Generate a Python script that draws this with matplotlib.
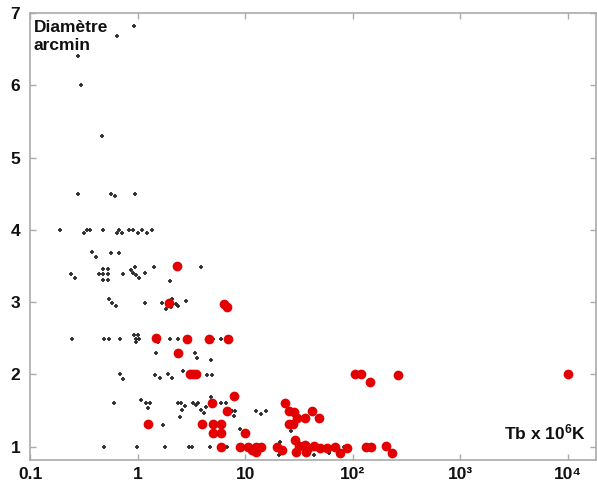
import matplotlib
matplotlib.use("Agg")
import matplotlib.pyplot as plt
from matplotlib.ticker import FixedLocator, NullLocator, FixedFormatter

plt.rcParams['font.family'] = ['Liberation Sans', 'DejaVu Sans']
plt.rcParams['mathtext.fontset'] = 'custom'
plt.rcParams['mathtext.rm'] = 'Liberation Sans:bold'
plt.rcParams['mathtext.bf'] = 'Liberation Sans:bold'
plt.rcParams['mathtext.it'] = 'Liberation Sans:bold'

black_x = [0.92, 0.64, 0.28, 0.30, 0.47,
           0.28, 0.56, 0.61, 0.94,
           0.19, 0.32, 0.34, 0.36, 0.48, 0.64, 0.67, 0.72, 0.84, 0.90, 1.0, 1.11, 1.21, 1.35,
           0.38, 0.41, 0.57, 0.67,
           0.24, 0.26, 0.48, 0.53, 0.44, 0.48, 0.53, 0.48, 0.53, 0.73,
           0.87, 0.94, 0.90, 0.97, 1.04, 1.16, 1.42, 3.85, 2.01,
           0.54, 0.58, 0.63, 1.16, 1.70, 1.85, 2.10, 2.05, 2.26, 2.37, 2.84,
           0.246, 0.49, 0.54, 0.68, 0.92, 1.0, 0.97, 1.04, 0.96, 1.55, 1.98, 2.37, 5.0, 6.0,
           1.47, 3.39, 3.60, 4.84,
           0.68, 0.73, 1.44, 1.60, 1.93, 2.10, 2.66, 4.41, 4.95,
           0.60, 1.08, 1.19, 1.31, 1.25, 2.37, 2.55, 2.74, 2.60, 2.49, 3.27, 3.46, 3.64,
           3.92, 4.11, 4.36, 4.84, 5.9, 6.6, 7.46, 7.98, 7.8,
           1.72, 8.9, 12.5, 14.1, 15.7, 26.4,
           0.49, 0.99, 1.78, 3.0, 3.23, 4.74, 6.77, 21.2, 20.6, 43.4, 60.0, 82.0]
black_y = [6.82, 6.68, 6.40, 6.00, 5.30,
           4.50, 4.50, 4.47, 4.50,
           4.00, 3.95, 4.00, 4.00, 4.00, 3.95, 4.00, 3.95, 4.00, 4.00, 3.95, 4.00, 3.95, 4.00,
           3.69, 3.63, 3.68, 3.68,
           3.39, 3.34, 3.46, 3.46, 3.39, 3.39, 3.39, 3.31, 3.31, 3.39,
           3.44, 3.49, 3.40, 3.37, 3.34, 3.40, 3.49, 3.49, 3.29,
           3.04, 2.99, 2.94, 2.99, 2.99, 2.91, 3.05, 2.93, 2.98, 2.94, 3.02,
           2.49, 2.49, 2.49, 2.49, 2.55, 2.55, 2.49, 2.49, 2.45, 2.45, 2.49, 2.49, 2.49, 2.49,
           2.29, 2.30, 2.23, 2.20,
           2.00, 1.94, 1.99, 1.95, 2.00, 1.95, 2.05, 1.99, 1.99,
           1.60, 1.65, 1.61, 1.61, 1.54, 1.61, 1.61, 1.56, 1.51, 1.41, 1.61, 1.58, 1.61,
           1.51, 1.46, 1.55, 1.69, 1.60, 1.60, 1.50, 1.50, 1.42,
           1.30, 1.25, 1.50, 1.45, 1.50, 1.22,
           1.00, 1.00, 1.00, 1.00, 1.00, 1.00, 1.00, 1.07, 0.89, 0.89, 0.91, 0.99]

red_x = [2.34, 1.96, 6.3, 6.75,
         1.48, 2.87, 4.56, 6.9,
         2.37,
         3.05, 3.25, 3.5,
         4.92, 7.87, 6.75,
         1.24, 3.96, 5.02, 6.0, 5.02, 6.0, 10.0,
         6.0, 9.0, 10.6, 11.6, 12.5, 12.7, 13.9,
         19.8, 22.2,
         23.6, 25.6, 28.3, 41.4, 30.3, 36.3, 48.6, 25.6, 27.8, 28.8,
         29.9, 31.6, 35.8, 38.3, 37.0, 43.4, 49.4, 57.8, 68.4, 75.6, 88.8,
         132, 149, 203, 233,
         104, 118, 144, 264, 9930]
red_y = [3.50, 2.99, 2.97, 2.93,
         2.50, 2.49, 2.49, 2.49,
         2.29,
         2.00, 2.00, 2.00,
         1.60, 1.70, 1.49,
         1.31, 1.31, 1.31, 1.31, 1.19, 1.19, 1.19,
         1.00, 1.00, 1.00, 0.95, 0.99, 0.93, 1.00,
         1.00, 0.96,
         1.60, 1.50, 1.48, 1.50, 1.40, 1.40, 1.40, 1.31, 1.31, 1.09,
         0.92, 1.01, 1.03, 0.98, 0.93, 1.01, 0.98, 0.98, 0.99, 0.91, 0.98,
         0.99, 0.99, 1.01, 0.91,
         2.00, 2.00, 1.89, 1.99, 2.00]

x_ticks = [0.1, 1, 10, 100, 1000, 10000]
x_tick_labels = ['0.1', '1', '10', '10²', '10³', '10⁴']
y_ticks = [1, 2, 3, 4, 5, 6, 7]

fig = plt.figure(figsize=(5.97, 4.84), dpi=100)
ax = fig.add_axes([30/597, 24/484, 566/597, 447/484])
ax.set_xscale('log')
ax.set_xlim(0.1, 18200)
ax.set_ylim(0.816, 7.0)

ax.plot(black_x, black_y, linestyle='none', marker='+', ms=3.5, mew=1.3,
        color='#2e2e2e', zorder=2)
ax.plot(red_x, red_y, linestyle='none', marker='o', ms=7, mew=0,
        color='#e30000', zorder=3)

ax.xaxis.set_major_locator(FixedLocator(x_ticks))
ax.xaxis.set_major_formatter(FixedFormatter(x_tick_labels))
ax.xaxis.set_minor_locator(NullLocator())
ax.set_yticks(y_ticks)
ax.set_yticklabels([str(v) for v in y_ticks])

ax.tick_params(axis='both', which='major', direction='in', length=4, width=1,
               color='#aaaaaa', top=True, right=True, labelsize=12.5,
               labelcolor='#111111')
ax.tick_params(axis='x', pad=5)
ax.tick_params(axis='y', pad=7)
for lbl in ax.get_xticklabels() + ax.get_yticklabels():
    lbl.set_fontweight('bold')
for sp in ax.spines.values():
    sp.set_color('#aaaaaa')
    sp.set_linewidth(1.2)

ax.text(0.006, 0.985, 'Diamètre\narcmin', transform=ax.transAxes, ha='left',
        va='top', fontsize=12.5, fontweight='bold', color='#111111', linespacing=1.25)
ax.text(0.982, 0.045, r'Tb x 10$^{6}$K', transform=ax.transAxes, ha='right',
        va='baseline', fontsize=12.5, fontweight='bold', color='#111111')

fig.savefig('out.png', dpi=100)
